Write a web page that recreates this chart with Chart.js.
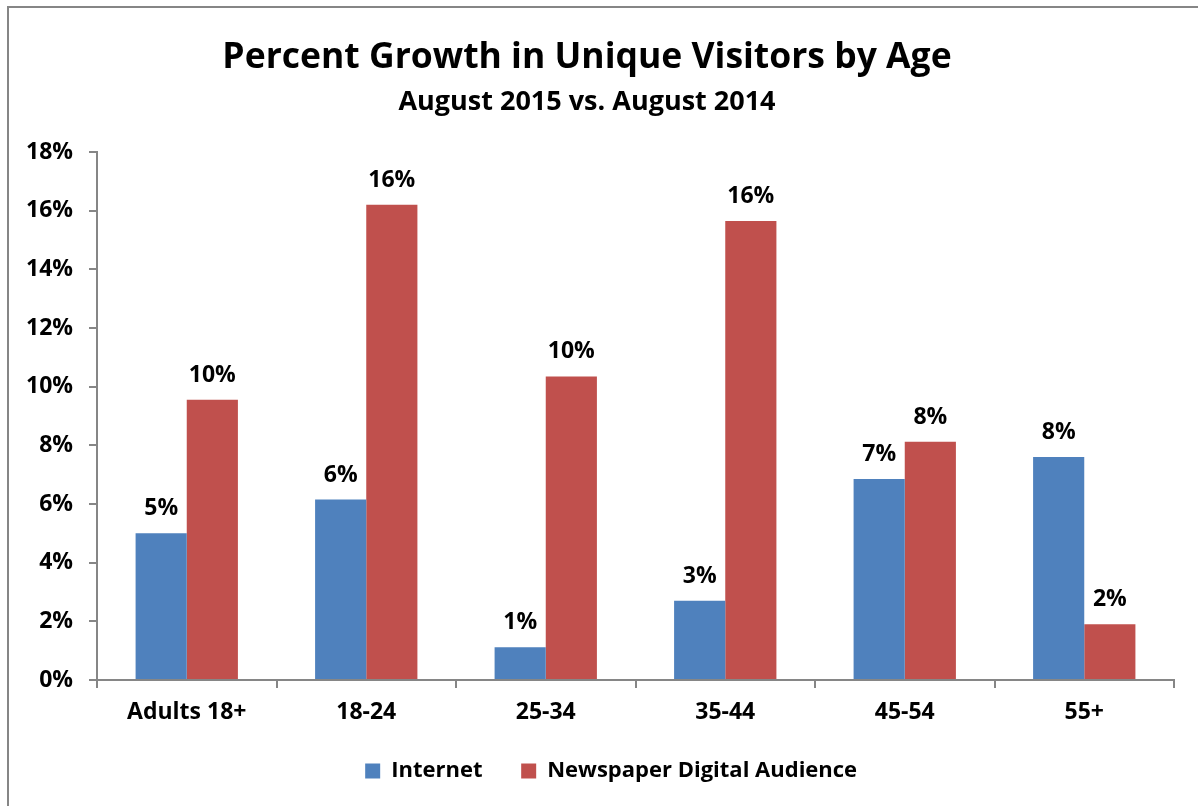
<!DOCTYPE html>
<html lang="en">
<head>
  <meta charset="UTF-8"/>
  <title>Percent Growth in Unique Visitors by Age</title>
  <script src="https://cdn.jsdelivr.net/npm/chart.js"></script>
  <style>
    html, body { margin: 0; padding: 0; background: #ffffff; overflow: hidden; }
    .frame {
      position: absolute; left: 7px; top: 6px; width: 1300px; height: 900px;
      border-left: 2px solid #868686; border-top: 2px solid #868686;
    }
    .chart-box { position: absolute; left: 0; top: 0; width: 1198px; height: 806px; }
  </style>
</head>
<body>
<div class="frame"></div>
<div class="chart-box"><canvas id="growthChart"></canvas></div>

<script>
const ageGroups = ['Adults 18+', '18-24', '25-34', '35-44', '45-54', '55+'];
const internetGrowth = [5.0, 6.15, 1.12, 2.7, 6.85, 7.6];
const newspaperGrowth = [9.55, 16.2, 10.35, 15.65, 8.12, 1.9];
const yTicks = [0, 2, 4, 6, 8, 10, 12, 14, 16, 18];

const FONT = "'Open Sans', Lato, sans-serif";
const AXIS_GREY = '#868686';

// simple value labels above each bar
const barLabels = {
  id: 'barLabels',
  afterDatasetsDraw(chart) {
    const ctx = chart.ctx;
    ctx.save();
    ctx.font = 'bold 23px ' + FONT;
    ctx.fillStyle = '#000';
    ctx.textAlign = 'center';
    ctx.textBaseline = 'alphabetic';
    chart.data.datasets.forEach((ds, i) => {
      chart.getDatasetMeta(i).data.forEach((bar, j) => {
        ctx.fillText(Math.round(ds.data[j]) + '%', bar.x, bar.y - 18);
      });
    });
    ctx.restore();
  }
};

// the original legend sits centred a bit right of the canvas middle
const legendNudge = {
  id: 'legendNudge',
  afterLayout(chart) {
    if (chart.legend) {
      chart.legend.left += 27;
      chart.legend.right += 27;
    }
  }
};

new Chart(document.getElementById('growthChart'), {
  type: 'bar',
  data: {
    labels: ageGroups,
    datasets: [
      { label: 'Internet', data: internetGrowth, backgroundColor: '#4F81BD' },
      { label: 'Newspaper Digital Audience', data: newspaperGrowth, backgroundColor: '#C0504D' }
    ]
  },
  options: {
    responsive: true,
    maintainAspectRatio: false,
    animation: false,
    layout: { padding: { left: 0, right: 24, top: 20, bottom: 14 } },
    datasets: { bar: { barPercentage: 1.0, categoryPercentage: 0.57 } },
    plugins: {
      title: {
        display: true,
        text: 'Percent Growth in Unique Visitors by Age',
        color: '#000',
        font: { family: FONT, size: 35.5, weight: 'bold' },
        padding: { top: 17, bottom: 4 }
      },
      subtitle: {
        display: true,
        text: 'August 2015 vs. August 2014',
        color: '#000',
        font: { family: FONT, size: 27, weight: 'bold' },
        padding: { top: 3, bottom: 33 }
      },
      legend: {
        position: 'bottom',
        labels: {
          color: '#000',
          font: { family: FONT, size: 22, weight: 'bold' },
          boxWidth: 15,
          boxHeight: 15,
          padding: 33,
          // a trailing space widens the gap between the two entries
          generateLabels(chart) {
            return Chart.defaults.plugins.legend.labels.generateLabels(chart)
              .map(item => ({ ...item, text: item.text + ' ' }));
          }
        }
      },
      tooltip: { enabled: false }
    },
    scales: {
      x: {
        grid: { display: true, drawOnChartArea: false, drawTicks: true, tickLength: 8, color: AXIS_GREY, lineWidth: 2 },
        border: { display: true, color: AXIS_GREY, width: 2 },
        ticks: { color: '#000', font: { family: FONT, size: 23, weight: 'bold' }, padding: 11 },
        afterFit(scale) { scale.height = 47; }
      },
      y: {
        min: 0,
        max: 18,
        afterBuildTicks(scale) { scale.ticks = yTicks.map(v => ({ value: v })); },
        grid: { display: true, drawOnChartArea: false, drawTicks: true, tickLength: 8, color: AXIS_GREY, lineWidth: 2 },
        border: { display: true, color: AXIS_GREY, width: 2 },
        ticks: {
          color: '#000',
          font: { family: FONT, size: 23, weight: 'bold' },
          padding: 16,
          callback: v => v + '%'
        },
        afterFit(scale) { scale.width = 97; }
      }
    }
  },
  plugins: [barLabels, legendNudge]
});
</script>
</body>
</html>
